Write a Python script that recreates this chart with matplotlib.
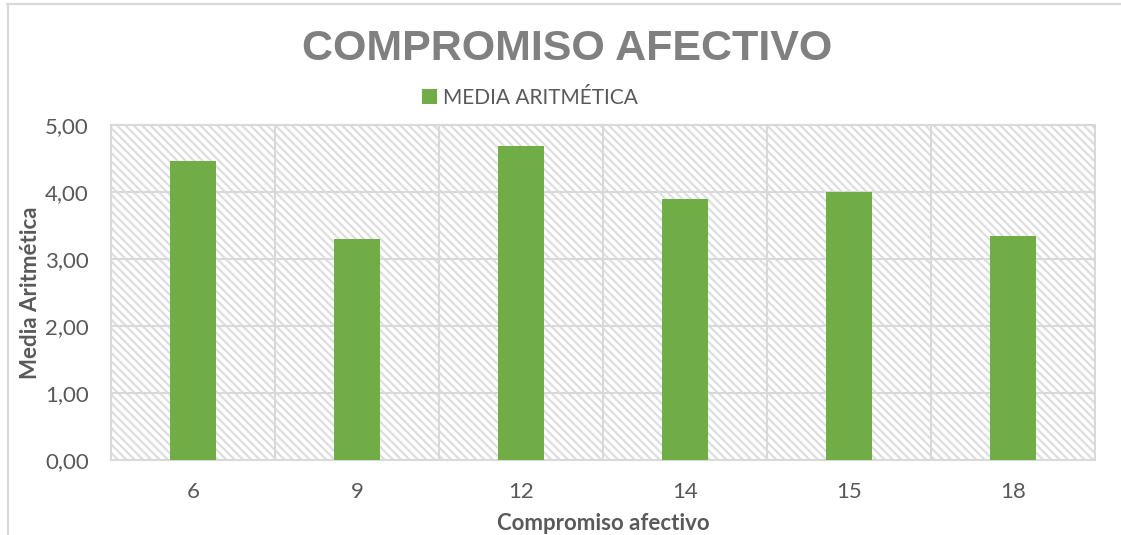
import numpy as np
import matplotlib
matplotlib.use('Agg')
from matplotlib import pyplot as plt
from matplotlib.patches import Rectangle
from matplotlib.lines import Line2D

# valores medios por ítem
categories = ['6', '9', '12', '14', '15', '18']
media = [4.46, 3.30, 4.69, 3.90, 4.00, 3.35]
yticks = [0, 1, 2, 3, 4, 5]
ytick_labels = ['0,00', '1,00', '2,00', '3,00', '4,00', '5,00']

title = 'COMPROMISO AFECTIVO'
legend_label = 'MEDIA ARITMÉTICA'
xlabel = 'Compromiso afectivo'
ylabel = 'Media Aritmética'

green = '#70ad47'
grid_gray = '#d9d9d9'
text_gray = '#595959'

plt.rcParams['hatch.linewidth'] = 1.6
plt.rcParams['font.family'] = ['Lato', 'DejaVu Sans']

fig = plt.figure(figsize=(11.21, 5.35), dpi=100)
ax = fig.add_axes([111 / 1121, 75 / 535, 984 / 1121, 335 / 535])

# fondo rayado del área de trazado
ax.add_patch(Rectangle((0, 0), 1, 1, transform=ax.transAxes, facecolor='white',
                       edgecolor='#dedede', hatch='\\\\\\\\', lw=0, zorder=0))

x = np.arange(len(categories))
ax.bar(x, media, width=0.275, color=green, zorder=3)

ax.set_xlim(-0.5, len(categories) - 0.5)
ax.set_ylim(0, 5)
ax.set_xticks(x)
ax.set_xticklabels(categories)
ax.set_xticks(np.arange(len(categories) + 1) - 0.5, minor=True)
ax.set_yticks(yticks)
ax.set_yticklabels(ytick_labels)

ax.grid(axis='y', which='major', color=grid_gray, lw=1.5, zorder=1)
ax.grid(axis='x', which='minor', color=grid_gray, lw=1.5, zorder=1)
ax.set_axisbelow(True)
for s in ax.spines.values():
    s.set_color(grid_gray)
    s.set_linewidth(1.5)

ax.tick_params(axis='both', which='both', length=0, colors=text_gray, labelsize=16)
ax.tick_params(axis='y', pad=16)
ax.tick_params(axis='x', pad=16)

ax.set_xlabel(xlabel, fontsize=16, fontweight='bold', color=text_gray, labelpad=8)
ax.set_ylabel(ylabel, fontsize=16, fontweight='bold', color=text_gray)
ax.yaxis.set_label_coords((41 - 111) / 984, 0.5)

fig.text(567 / 1121, 1 - 49 / 535, title, ha='center', va='center',
         fontsize=31, fontweight='bold', color='#808080',
         family=['Liberation Sans', 'DejaVu Sans'])

# leyenda
handle = Rectangle((0, 0), 1, 1, facecolor=green)
fig.legend([handle], [legend_label], loc='center', bbox_to_anchor=(530 / 1121, 1 - 98 / 535),
           frameon=False, fontsize=15, handlelength=0.7, handleheight=0.7,
           handletextpad=0.3, labelcolor=text_gray)

# marco del gráfico
fig.add_artist(Line2D([7 / 1121, 1], [1 - 4 / 535, 1 - 4 / 535], color=grid_gray, lw=1.5))
fig.add_artist(Line2D([8 / 1121, 8 / 1121], [0, 1 - 4 / 535], color=grid_gray, lw=1.5))

fig.savefig('out.png', dpi=100)
